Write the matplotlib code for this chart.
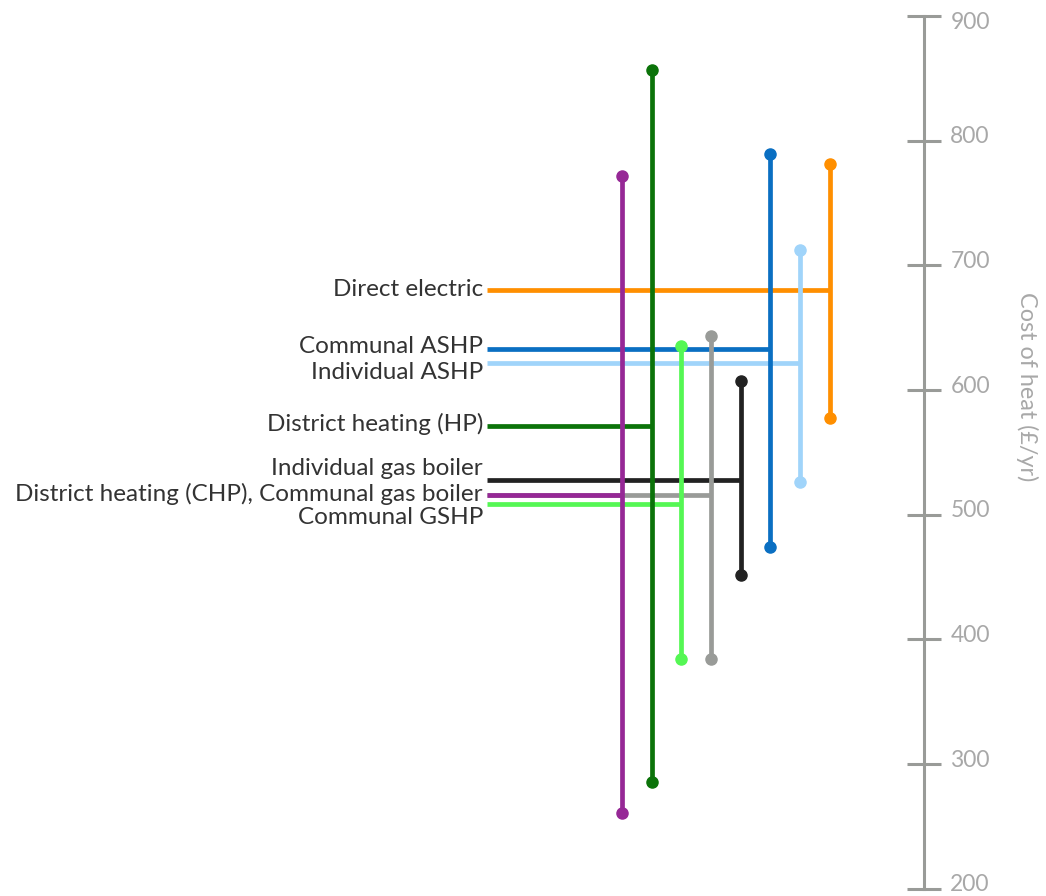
import matplotlib.pyplot as plt

plt.rcParams['font.family'] = ['Lato', 'DejaVu Sans']

# 数据：每种供热方式的费用范围与中值 (£/yr)
systems = ['District heating (CHP), Communal gas boiler', 'District heating (HP)', 'Communal GSHP',
           '', 'Individual gas boiler', 'Communal ASHP', 'Individual ASHP', 'Direct electric']
low = [261, 286, 384, 384, 452, 474, 526, 578]
high = [772, 857, 635, 643, 607, 789, 712, 781]
mid = [516, 571, 509, 516, 528, 633, 622, 680]
colors = ['#962896', '#0b7309', '#55f754', '#999b98', '#222222', '#0a6fc2', '#a0d4fa', '#ff8f00']
yticks = [200, 300, 400, 500, 600, 700, 800, 900]

# 标签上下微调 (px)，避免文字重叠
label_nudge = [1, 2, -14, 0, 11, 2, -10, 1]

fig = plt.figure(figsize=(10.46, 8.96), dpi=100)
ax = fig.add_axes([0, 0, 1, 1])
ax.set_xlim(-20.94, 14.28)
ax.set_ylim(194.3, 912.8)

line_start = -4.55
axis_x = 10.17

# 先画灰色，再画紫色，让紫色覆盖共享的横线
order = [3, 0, 1, 2, 4, 5, 6, 7]
for i in order:
    ax.plot([line_start, i], [mid[i], mid[i]], color=colors[i], lw=3.4, solid_capstyle='butt', zorder=2)
for i in order:
    ax.plot([i, i], [low[i], high[i]], color=colors[i], lw=3.4, solid_capstyle='butt', zorder=3)
    ax.plot([i, i], [low[i], high[i]], 'o', color=colors[i], ms=8, zorder=4)

for i, name in enumerate(systems):
    if not name:
        continue
    ax.annotate(name, xy=(line_start - 0.13, mid[i]), xytext=(0, label_nudge[i] * 0.72),
                textcoords='offset points', ha='right', va='center', fontsize=17.5, color='#333333')

# 右侧坐标轴
for s in ['top', 'left', 'bottom']:
    ax.spines[s].set_visible(False)
ax.spines['right'].set_position(('data', axis_x))
ax.spines['right'].set_bounds(200, 900)
ax.spines['right'].set_color('#999b98')
ax.spines['right'].set_linewidth(2.2)
ax.yaxis.tick_right()
ax.set_yticks(yticks)
ax.set_yticklabels([])
ax.set_xticks([])
ax.tick_params(axis='y', direction='inout', length=25, width=2.2, color='#999b98')

# 刻度文字略高于刻度线，顶部 900 往下压以免被裁切
for t in yticks:
    dy = -7 if t == 900 else 4
    ax.annotate(str(t), xy=(axis_x, t), xytext=(19, dy * 0.72), textcoords='offset points',
                ha='left', va='center', fontsize=16.5, color='#a8a8a8')

ax.text(13.64, 602.5, 'Cost of heat (£/yr)', rotation=270, ha='center', va='center',
        fontsize=16.8, color='#a8a8a8')

fig.savefig('out.png', dpi=100)
